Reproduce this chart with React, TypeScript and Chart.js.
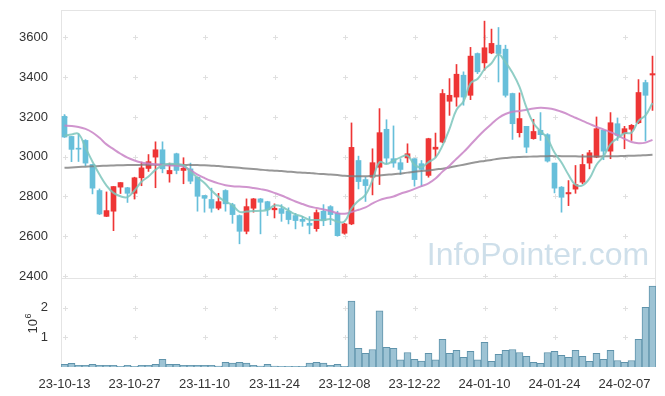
import React, { useEffect, useRef } from 'react';
import { Chart, registerables } from 'chart.js';

Chart.register(...registerables);

const dates = [
  '23-10-13', '23-10-16', '23-10-17', '23-10-18', '23-10-19', '23-10-20',
  '23-10-23', '23-10-24', '23-10-25', '23-10-26', '23-10-27',
  '23-10-30', '23-10-31', '23-11-01', '23-11-02', '23-11-03',
  '23-11-06', '23-11-07', '23-11-08', '23-11-09', '23-11-10',
  '23-11-13', '23-11-14', '23-11-15', '23-11-16', '23-11-17',
  '23-11-20', '23-11-21', '23-11-22', '23-11-23', '23-11-24',
  '23-11-27', '23-11-28', '23-11-29', '23-11-30', '23-12-01',
  '23-12-04', '23-12-05', '23-12-06', '23-12-07', '23-12-08',
  '23-12-11', '23-12-12', '23-12-13', '23-12-14', '23-12-15',
  '23-12-18', '23-12-19', '23-12-20', '23-12-21', '23-12-22',
  '23-12-26', '23-12-27', '23-12-28',
  '24-01-02', '24-01-03', '24-01-04', '24-01-05',
  '24-01-08', '24-01-09', '24-01-10', '24-01-11', '24-01-12',
  '24-01-15', '24-01-16', '24-01-17', '24-01-18', '24-01-19',
  '24-01-22', '24-01-23', '24-01-24', '24-01-25', '24-01-26',
  '24-01-29', '24-01-30', '24-01-31', '24-02-01', '24-02-02',
  '24-02-05', '24-02-06', '24-02-07', '24-02-08',
  '24-02-13', '24-02-14', '24-02-15',
];

const opens = [
  3203, 3102, 3042, 3082, 2961, 2830, 2700, 2726, 2847, 2844,
  2816, 2894, 2941, 2998, 3035, 2914, 3015, 2931, 2939, 2897,
  2805, 2785, 2741, 2830, 2759, 2704, 2625, 2741, 2788, 2774,
  2733, 2739, 2726, 2704, 2685, 2665, 2638, 2726, 2749, 2715,
  2615, 2662, 2981, 2885, 2897, 2947, 3138, 2990, 2970, 2994,
  2990, 2965, 2906, 3038, 3074, 3279, 3300, 3410, 3309, 3519,
  3472, 3522, 3561, 3541, 3318, 3121, 3153, 3091, 3133, 3111,
  2968, 2847, 2813, 2837, 2872, 2968, 2998, 3133, 3028, 3166,
  3116, 3138, 3171, 3373, 3411,
];
const highs = [
  3212, 3102, 3116, 3086, 2961, 2838, 2823, 2850, 2870, 2846,
  2897, 2973, 3011, 3075, 3075, 2968, 3018, 2995, 2968, 2897,
  2805, 2842, 2816, 2834, 2766, 2707, 2788, 2790, 2790, 2776,
  2763, 2759, 2743, 2715, 2700, 2699, 2733, 2759, 2754, 2726,
  2665, 3170, 3003, 2897, 3040, 3242, 3186, 3155, 2990, 3065,
  2990, 2981, 3093, 3119, 3338, 3393, 3464, 3427, 3550, 3522,
  3682, 3642, 3650, 3561, 3320, 3321, 3153, 3188, 3222, 3116,
  2968, 2850, 2880, 2956, 3011, 3032, 3200, 3133, 3222, 3195,
  3153, 3162, 3388, 3385, 3506,
];
const lows = [
  3097, 2975, 2976, 2955, 2813, 2709, 2699, 2628, 2815, 2770,
  2787, 2854, 2926, 2844, 2919, 2872, 2914, 2864, 2864, 2726,
  2721, 2721, 2733, 2726, 2665, 2562, 2612, 2721, 2612, 2704,
  2692, 2675, 2662, 2637, 2650, 2612, 2625, 2653, 2658, 2600,
  2610, 2658, 2838, 2775, 2808, 2860, 2965, 2947, 2911, 2971,
  2852, 2850, 2897, 2998, 3070, 3208, 3254, 3259, 3287, 3418,
  3435, 3518, 3376, 3300, 3087, 3099, 3020, 3088, 3082, 2973,
  2818, 2721, 2754, 2816, 2864, 2939, 2995, 2985, 2990, 3082,
  3040, 3082, 3166, 3079, 3233,
];
const closes = [
  3099, 3037, 3038, 2968, 2842, 2712, 2729, 2850, 2870, 2816,
  2894, 2944, 2975, 3035, 2939, 2931, 2931, 2942, 2877, 2801,
  2791, 2741, 2774, 2763, 2709, 2625, 2749, 2788, 2771, 2733,
  2741, 2715, 2684, 2679, 2675, 2655, 2719, 2679, 2709, 2603,
  2662, 3047, 2875, 2855, 2970, 3121, 2993, 2968, 2936, 3015,
  2885, 2936, 3091, 3048, 3318, 3309, 3415, 3300, 3506, 3427,
  3548, 3570, 3519, 3309, 3166, 3192, 3048, 3127, 3111, 2978,
  2842, 2796, 2820, 2860, 2961, 3020, 3141, 3028, 3171, 3107,
  3141, 3158, 3323, 3309, 3418,
];

const ma5 = [
  3105, 3112, 3115, 3045, 2975, 2910, 2855, 2818, 2801, 2797,
  2830, 2874, 2901, 2934, 2957, 2965, 2962, 2956, 2925, 2895,
  2868, 2830, 2798, 2774, 2756, 2723, 2724, 2727, 2728, 2733,
  2755, 2750, 2729, 2710, 2699, 2683, 2682, 2681, 2687, 2673,
  2674, 2740, 2779, 2808, 2882, 2973, 2963, 2980, 2997, 3006,
  2959, 2948, 2973, 2995, 3056, 3140, 3236, 3278, 3370, 3391,
  3439, 3470, 3514, 3475, 3422, 3351, 3247, 3168, 3129, 3091,
  3021, 2971, 2909, 2859, 2856, 2891, 2960, 3002, 3064, 3093,
  3118, 3121, 3180, 3208, 3270,
];
const ma20 = [
  3157, 3155, 3150, 3140, 3122, 3095, 3062, 3038, 3015, 2995,
  2981, 2971, 2966, 2962, 2958, 2956, 2955, 2950, 2932, 2910,
  2893, 2878, 2866, 2857, 2852, 2850, 2848, 2843, 2837, 2830,
  2818, 2805, 2790, 2775, 2762, 2750, 2742, 2735, 2727, 2716,
  2713, 2722, 2733, 2745, 2765, 2782, 2792, 2800, 2814, 2825,
  2838, 2852, 2866, 2890, 2925, 2955, 2990, 3023, 3060, 3098,
  3133, 3165, 3195, 3215, 3226, 3230, 3236, 3243, 3246, 3244,
  3238, 3226, 3212, 3196, 3180, 3165, 3150, 3137, 3124, 3108,
  3090, 3074, 3068, 3071, 3085,
];
const maLong = [
  2944, 2946, 2948, 2950, 2952, 2953, 2955, 2956, 2957, 2958,
  2958, 2959, 2960, 2960, 2960, 2960, 2960, 2959, 2959, 2958,
  2957, 2955, 2953, 2950, 2947, 2944, 2941, 2938, 2935, 2932,
  2930, 2928, 2925, 2922, 2920, 2918, 2915, 2913, 2911, 2908,
  2904, 2902, 2902, 2902, 2904, 2906, 2909, 2912, 2916, 2920,
  2925, 2928, 2931, 2936, 2940, 2946, 2953, 2960, 2967, 2974,
  2979, 2984, 2990, 2993, 2997, 2999, 3000, 3001, 3002, 3003,
  3003, 3003, 3002, 3002, 3001, 3001, 3001, 3002, 3002, 3003,
  3004, 3005, 3006, 3008, 3010,
];

// volume in millions of shares (axis unit 10^6)
const volumeM = [
  0.09, 0.12, 0.06, 0.06, 0.09, 0.06, 0.06, 0.06, 0.02, 0.06,
  0.02, 0.06, 0.06, 0.09, 0.26, 0.09, 0.09, 0.06, 0.06, 0.06,
  0.06, 0.06, 0.03, 0.16, 0.13, 0.16, 0.13, 0.06, 0.03, 0.09,
  0.03, 0.02, 0.02, 0.02, 0.02, 0.13, 0.16, 0.13, 0.06, 0.09,
  0.02, 2.22, 0.63, 0.46, 0.59, 1.89, 0.66, 0.63, 0.24, 0.49,
  0.26, 0.20, 0.46, 0.24, 0.93, 0.46, 0.56, 0.33, 0.53, 0.24,
  0.83, 0.19, 0.43, 0.56, 0.59, 0.49, 0.36, 0.16, 0.12, 0.49,
  0.53, 0.39, 0.33, 0.56, 0.36, 0.19, 0.46, 0.26, 0.56, 0.22,
  0.16, 0.22, 0.93, 2.01, 2.73,
];

const priceTicks = [2400, 2600, 2800, 3000, 3200, 3400, 3600];
const volumeTicks = [1, 2];
const labelEvery = 10;

const UP = '#ee3535';
const DOWN = '#67bfda';
const FONT = '"Liberation Sans", Arial, sans-serif';

const decorPlugin = {
  id: 'decor',
  beforeDatasetsDraw(chart: any) {
    const { ctx, scales } = chart;
    const x = scales.x;
    const y = scales.y;
    const yv = scales.yv;
    ctx.save();
    // watermark
    ctx.font = `32px ${FONT}`;
    ctx.fillStyle = 'rgba(165, 197, 216, 0.55)';
    ctx.textAlign = 'center';
    ctx.textBaseline = 'alphabetic';
    ctx.fillText('InfoPointer.com', x.right - 118, y.bottom - 13);

    // cross markers at grid intersections
    ctx.strokeStyle = '#e0e0e0';
    ctx.lineWidth = 1;
    const xs: number[] = [];
    for (let i = 0; i < dates.length; i += labelEvery) xs.push(Math.round(x.getPixelForValue(i)) + 0.5);
    const ys: number[] = [];
    priceTicks.forEach((v) => ys.push(Math.round(y.getPixelForValue(v)) + 0.5));
    volumeTicks.forEach((v) => ys.push(Math.round(yv.getPixelForValue(v)) + 0.5));
    ctx.beginPath();
    xs.forEach((px) => {
      ys.forEach((py) => {
        ctx.moveTo(px - 2.5, py);
        ctx.lineTo(px + 2.5, py);
        ctx.moveTo(px, py - 2.5);
        ctx.lineTo(px, py + 2.5);
      });
    });
    ctx.stroke();

    // panel borders
    ctx.strokeStyle = '#e4e4e4';
    ctx.strokeRect(x.left + 0.5, y.top + 0.5, x.right - x.left - 1, y.bottom - y.top);
    ctx.strokeRect(x.left + 0.5, yv.top + 0.5, x.right - x.left - 1, yv.bottom - yv.top - 1);
    ctx.restore();
  },
  afterDraw(chart: any) {
    const { ctx, scales } = chart;
    const yv = scales.yv;
    ctx.save();
    ctx.fillStyle = '#333';
    ctx.translate(37, (yv.top + yv.bottom) / 2 + 11);
    ctx.rotate(-Math.PI / 2);
    ctx.textAlign = 'left';
    ctx.textBaseline = 'alphabetic';
    ctx.font = `13px ${FONT}`;
    ctx.fillText('10', 0, 0);
    const w = ctx.measureText('10').width;
    ctx.font = `9px ${FONT}`;
    ctx.fillText('6', w + 0.5, -6);
    ctx.restore();
  },
};

const fitLeft = (s: any) => {
  s.width = 61;
  s.paddingTop = 0;
  s.paddingBottom = 0;
};

export default function App() {
  const ref = useRef<HTMLCanvasElement | null>(null);

  useEffect(() => {
    document.body.style.margin = '0';
    if (!ref.current) return;
    const colors = closes.map((c, i) => (c >= opens[i] ? UP : DOWN));
    const chart = new Chart(ref.current, {
      type: 'bar',
      data: {
        labels: dates,
        datasets: [
          {
            type: 'line',
            data: ma5,
            yAxisID: 'y',
            borderColor: 'rgba(125, 198, 188, 0.85)',
            borderWidth: 2,
            pointRadius: 0,
            tension: 0.4,
            order: 0,
          },
          {
            type: 'line',
            data: ma20,
            yAxisID: 'y',
            borderColor: 'rgba(200, 130, 198, 0.85)',
            borderWidth: 2,
            pointRadius: 0,
            tension: 0.4,
            order: 0,
          },
          {
            type: 'line',
            data: maLong,
            yAxisID: 'y',
            borderColor: 'rgba(125, 125, 125, 0.8)',
            borderWidth: 2,
            pointRadius: 0,
            tension: 0.4,
            order: 0,
          },
          {
            type: 'bar',
            data: opens.map((o, i) => [o, closes[i]]),
            yAxisID: 'y',
            backgroundColor: colors,
            borderWidth: 0,
            barThickness: 5,
            grouped: false,
            minBarLength: 1,
            order: 1,
          },
          {
            type: 'bar',
            data: lows.map((l, i) => [l, highs[i]]),
            yAxisID: 'y',
            backgroundColor: colors,
            borderWidth: 0,
            barThickness: 1,
            grouped: false,
            order: 2,
          },
          {
            type: 'bar',
            data: volumeM,
            yAxisID: 'yv',
            backgroundColor: '#9dc3d4',
            borderColor: '#5f93ab',
            borderWidth: 1,
            barPercentage: 1,
            categoryPercentage: 1,
            grouped: false,
            order: 3,
          },
        ] as any,
      },
      options: {
        animation: false,
        responsive: false,
        maintainAspectRatio: false,
        events: [],
        layout: { padding: { top: 10, right: 9, left: 0, bottom: 0 } },
        plugins: { legend: { display: false }, tooltip: { enabled: false } },
        scales: {
          x: {
            type: 'category',
            offset: true,
            grid: { display: false },
            border: { display: false },
            ticks: {
              autoSkip: false,
              maxRotation: 0,
              minRotation: 0,
              padding: 2,
              color: '#333',
              font: { family: FONT, size: 13 },
              callback: (_v: any, i: number) => (i % labelEvery === 0 ? dates[i] : ''),
            },
            afterFit: (s: any) => {
              s.height = 29;
            },
          },
          y: {
            type: 'linear',
            position: 'left',
            stack: 'panels',
            stackWeight: 268,
            weight: 2,
            min: 2390,
            max: 3738,
            grid: { display: false },
            border: { display: false },
            ticks: {
              padding: 5,
              color: '#333',
              font: { family: FONT, size: 13 },
              callback: (v: any) => String(v),
            },
            afterBuildTicks: (s: any) => {
              s.ticks = priceTicks.map((v) => ({ value: v }));
            },
            afterFit: fitLeft,
          },
          yv: {
            type: 'linear',
            position: 'left',
            stack: 'panels',
            stackWeight: 89,
            weight: 1,
            min: 0,
            max: 3,
            grid: { display: false },
            border: { display: false },
            ticks: {
              padding: 5,
              color: '#333',
              font: { family: FONT, size: 13 },
              callback: (v: any) => String(v),
            },
            afterBuildTicks: (s: any) => {
              s.ticks = volumeTicks.map((v) => ({ value: v }));
            },
            afterFit: fitLeft,
          },
        },
      } as any,
      plugins: [decorPlugin],
    });
    return () => chart.destroy();
  }, []);

  return <canvas ref={ref} width={665} height={396} style={{ display: 'block', width: 665, height: 396 }} />;
}
